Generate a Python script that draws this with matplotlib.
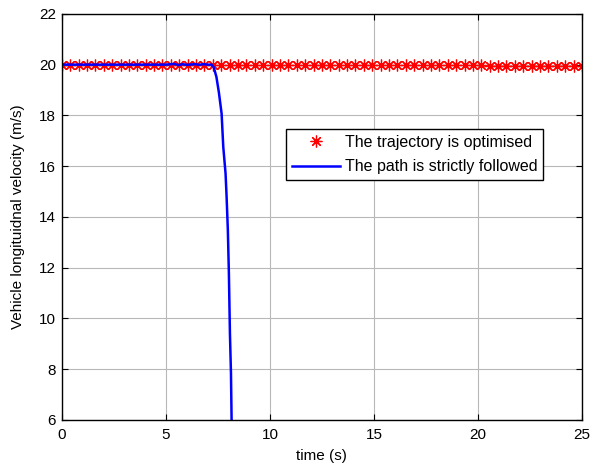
import numpy as np
import matplotlib.pyplot as plt

plt.rcParams['font.family'] = ['Liberation Sans', 'DejaVu Sans']
plt.rcParams['font.size'] = 11

# trajectory-optimised run: sampled every ~0.4 s over 25 s
t_opt = np.linspace(0, 25, 63)
v_opt = [20.00, 20.00, 20.00, 20.00, 20.00, 20.00, 20.00, 20.00, 20.00, 20.00,
         20.00, 20.00, 20.00, 20.00, 20.00, 20.00, 20.00, 20.00, 20.00, 20.00,
         20.00, 20.00, 20.00, 20.00, 20.00, 20.00, 20.00, 20.00, 20.00, 20.00,
         20.00, 20.00, 20.00, 20.00, 20.00, 20.00, 20.00, 20.00, 20.00, 20.00,
         20.00, 20.00, 20.00, 20.00, 20.00, 20.00, 20.00, 20.00, 20.00, 20.00,
         19.97, 19.95, 19.96, 19.95, 19.96, 19.95, 19.96, 19.95, 19.96, 19.95,
         19.96, 19.95, 19.96]

# strict path following: speed collapses after ~7.3 s
t_path = [0.0, 1.0, 2.0, 3.0, 4.0, 5.0, 5.4, 5.6, 5.8, 6.0, 6.4, 6.6, 6.8,
          7.0, 7.2, 7.3, 7.43, 7.55, 7.68, 7.76, 7.87, 7.92, 7.98, 8.03,
          8.08, 8.13, 8.16]
v_path = [20.0, 20.0, 20.0, 20.0, 20.0, 20.0, 20.03, 19.98, 20.02, 19.99,
          20.02, 19.99, 20.02, 20.0, 20.0, 19.9, 19.52, 18.9, 18.07, 16.76,
          15.71, 14.79, 13.48, 11.78, 9.41, 7.84, 6.0]

fig = plt.figure(figsize=(6, 4.63), dpi=100)
ax = fig.add_axes([0.103, 0.093, 0.867, 0.877])

ax.plot(t_opt, v_opt, linestyle='none', color='red', marker=(8, 2, 0),
        markersize=8.5, markeredgewidth=0.9, label='The trajectory is optimised')
ax.plot(t_path, v_path, '-', color='blue', lw=1.8,
        label='The path is strictly followed')

ax.set_xlim(0, 25)
ax.set_ylim(6, 22)
ax.set_xticks(np.arange(0, 26, 5))
ax.set_yticks(np.arange(6, 23, 2))
ax.grid(True, color='#b8b8b8', lw=0.8)
ax.set_axisbelow(True)
ax.tick_params(direction='in', top=True, right=True, length=4, width=0.8)
ax.tick_params(axis='x', pad=6)
ax.tick_params(axis='y', pad=4)
for s in ax.spines.values():
    s.set_linewidth(1.0)

ax.set_xlabel('time (s)', labelpad=5)
ax.set_ylabel('Vehicle longituidnal velocity (m/s)', labelpad=10)

leg = ax.legend(loc='upper left', bbox_to_anchor=(0.431, 0.716),
                fancybox=False, framealpha=1, edgecolor='black',
                fontsize=11.5, borderpad=0.35, handlelength=3.0,
                handletextpad=0.35, labelspacing=0.6, numpoints=1,
                borderaxespad=0)
leg.get_frame().set_linewidth(1.0)

fig.savefig('out.png', dpi=100)
